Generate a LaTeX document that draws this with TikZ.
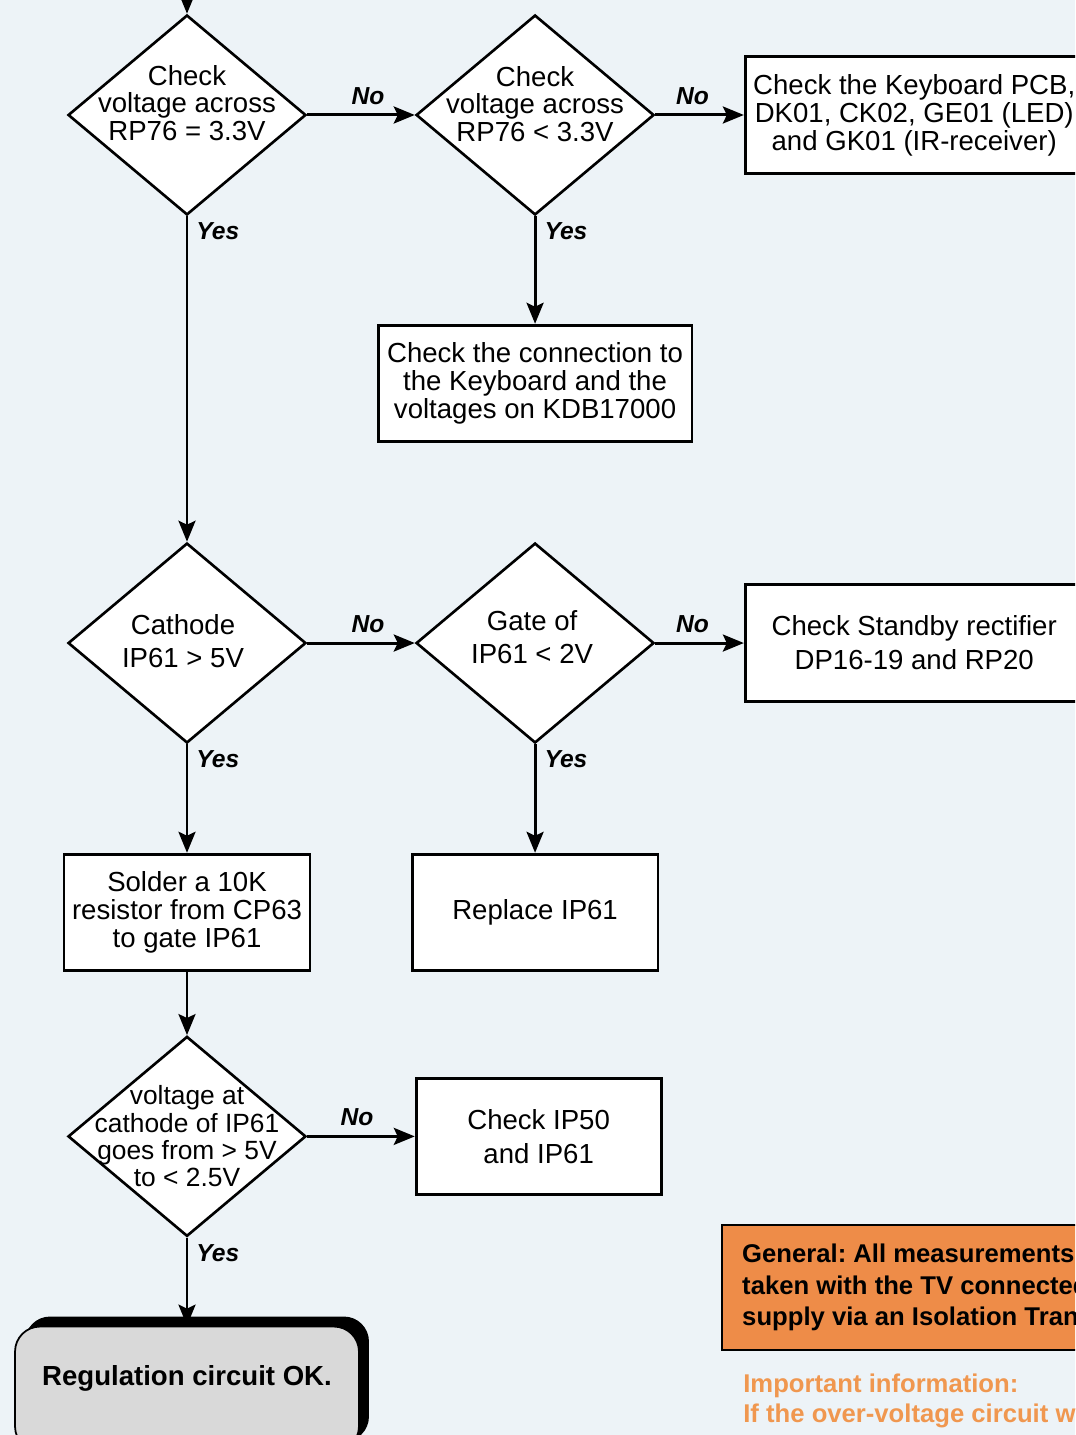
\documentclass[tikz,border=0pt]{standalone}
\usepackage{fontspec}
\setmainfont{Liberation Sans}
\usetikzlibrary{arrows.meta, positioning, shapes.geometric, shadows}
\definecolor{fond}{HTML}{EDF3F7}
\definecolor{orangevif}{HTML}{EE8C48}
\definecolor{orangetexte}{HTML}{F0974F}
\definecolor{gristerm}{HTML}{D9D9D9}
\tikzset{
  losange/.style={diamond, draw=black, line width=1.5pt, fill=white,
    minimum width=4.76cm, minimum height=4cm, inner sep=0pt},
  etiquette/.style={align=center, inner sep=0pt, font=\fontsize{15.7}{15.6}\selectfont},
  bloc/.style={rectangle, draw=black, line width=1.6pt, fill=white,
    align=center, font=\fontsize{15.7}{15.9}\selectfont},
  fleche/.style={-{Stealth[length=0.42cm, width=0.34cm, inset=0.08cm]}, line width=1.7pt},
  reponse/.style={font=\bfseries\itshape\fontsize{14}{15}\selectfont, inner sep=0.1cm},
  oui/.style={reponse, pos=0, anchor=north west, xshift=0.06cm},
  non/.style={reponse, midway, anchor=south, yshift=0.08cm},
  fin/.style={rectangle, rounded corners=0.5cm, draw=black, line width=1pt, fill=gristerm,
    font=\bfseries\fontsize{15.7}{17}\selectfont, minimum width=6.88cm, minimum height=2.5cm,
    drop shadow={shadow xshift=0.2cm, shadow yshift=0.2cm, fill=black, opacity=1}},
  avis/.style={rectangle, draw=black, line width=1.4pt, fill=orangevif, align=left,
    font=\bfseries\fontsize{14.6}{18}\selectfont, inner xsep=0.4cm, anchor=north west,
    minimum height=2.5cm},
}

\begin{document}
\frenchspacing
\begin{tikzpicture}[x=0.02cm, y=-0.02cm]
  \useasboundingbox (0,0) rectangle (1075,1435);
  \clip (0,0) rectangle (1075,1435);
  \fill[fond] (0,0) rectangle (1075,1435);

  % tension sur RP76
  \node[losange] (c1) at (187,115) {};
  \node[etiquette] (t1) at ([yshift=0.24cm]c1) {Check\\voltage across\\RP76 = 3.3V};
  \node[losange, right=2.15cm of c1] (c2) {};
  \node[etiquette] (t2) at ([yshift=0.22cm]c2) {Check\\voltage across\\RP76 < 3.3V};
  \node[bloc, right=1.77cm of c2, minimum width=6.76cm, minimum height=2.34cm] (clavier)
    {Check the Keyboard PCB,\\DK01, CK02, GE01 (LED)\\and GK01 (IR-receiver)};
  \node[bloc, below=2.15cm of c2, minimum width=6.28cm, minimum height=2.32cm] (connexion)
    {Check the connection to\\the Keyboard and the\\voltages on KDB17000};

  % cathode et gate de IP61
  \node[losange, below=6.51cm of c1] (c3) {};
  \node[etiquette] (t3) at ([xshift=-0.08cm, yshift=0.04cm]c3) {Cathode\\[0.12cm]IP61 > 5V};
  \node[losange, right=2.15cm of c3] (c4) {};
  \node[etiquette] (t4) at ([xshift=-0.06cm, yshift=0.12cm]c4) {Gate of\\[0.12cm]IP61 < 2V};
  \node[bloc, right=1.77cm of c4, minimum width=6.76cm, minimum height=2.34cm] (standby)
    {Check Standby rectifier\\[0.12cm]DP16-19 and RP20};
  \node[bloc, below=2.17cm of c3, minimum width=4.92cm, minimum height=2.32cm] (resistance)
    {Solder a 10K\\resistor from CP63\\to gate IP61};
  \node[bloc, below=2.17cm of c4, minimum width=4.92cm, minimum height=2.32cm] (remplace)
    {Replace IP61};

  % test final
  \node[losange, below=1.27cm of resistance] (c5) {};
  \node[etiquette, font=\fontsize{15}{15.6}\selectfont] (t5) at (c5)
    {voltage at\\cathode of IP61\\goes from > 5V\\to < 2.5V};
  \node[bloc, right=2.15cm of c5, minimum width=4.9cm, minimum height=2.32cm] (ip50)
    {Check IP50\\[0.12cm]and IP61};
  \node[fin, below=1.76cm of c5, text depth=0.56cm] (ok) {Regulation circuit OK.};

  % remarques
  \node[avis] (general) at (721,1224)
    {General: All measurements should be\\taken with the TV connected to the mains\\supply via an Isolation Transformer};
  \node[anchor=north west, inner sep=0pt, align=left, text=orangetexte,
    font=\bfseries\fontsize{14.6}{16.8}\selectfont] (important) at (743,1374)
    {Important information:\\If the over-voltage circuit was};

  \coordinate (entree) at (187,-20);
  \draw[fleche] (entree) -- (c1);
  \draw[fleche] (c1) -- node[non, xshift=0.14cm]{No} (c2);
  \draw[fleche] (c2) -- node[non, xshift=-0.14cm]{No} (clavier);
  \draw[fleche] (c1) -- node[oui]{Yes} (c3);
  \draw[fleche] (c2) -- node[oui]{Yes} (connexion);
  \draw[fleche] (c3) -- node[non, xshift=0.14cm]{No} (c4);
  \draw[fleche] (c4) -- node[non, xshift=-0.14cm]{No} (standby);
  \draw[fleche] (c3) -- node[oui]{Yes} (resistance);
  \draw[fleche] (c4) -- node[oui]{Yes} (remplace);
  \draw[fleche] (resistance) -- (c5);
  \draw[fleche] (c5) -- node[non, xshift=-0.08cm]{No} (ip50);
  \draw[fleche] (c5) -- node[oui]{Yes} (ok);
\end{tikzpicture}
\end{document}
